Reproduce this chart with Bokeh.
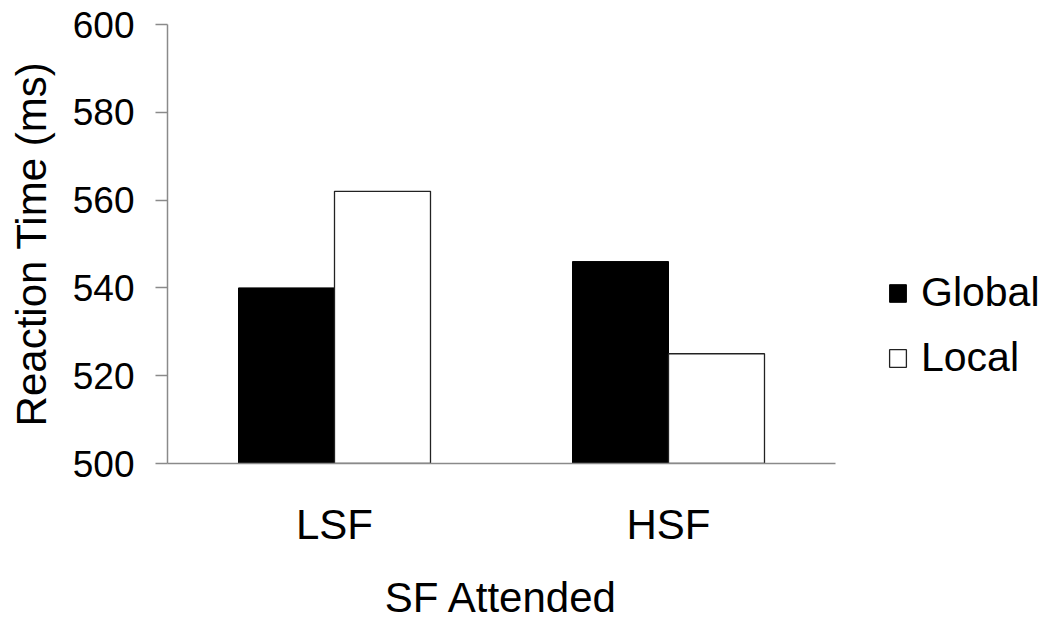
from bokeh.plotting import figure
from bokeh.models import Range1d, FactorRange, Legend, LegendItem, FixedTicker, ColumnDataSource
from bokeh.transform import dodge
from bokeh.embed import file_html
from bokeh.resources import INLINE

categories = ["LSF", "HSF"]
global_rt = [540, 546]
local_rt = [562, 525]
series = ["Global", "Local"]
y_ticks = [500, 520, 540, 560, 580, 600]

FONT = "Liberation Sans"

src = ColumnDataSource(dict(cat=categories, Global=global_rt, Local=local_rt))

p = figure(x_range=FactorRange(*categories), y_range=Range1d(y_ticks[0], y_ticks[-1]),
           frame_width=668, frame_height=439, output_backend="svg", toolbar_location=None,
           min_border_left=167, min_border_top=24, min_border_right=200, min_border_bottom=150)

bw = 0.2874
r1 = p.vbar(x=dodge('cat', -bw / 2, range=p.x_range), top='Global', bottom=y_ticks[0], width=bw,
            source=src, fill_color='black', line_color='black', line_width=1)
r2 = p.vbar(x=dodge('cat', bw / 2, range=p.x_range), top='Local', bottom=y_ticks[0], width=bw,
            source=src, fill_color='white', line_color='#222222', line_width=1.3)

p.xgrid.visible = False
p.ygrid.visible = False
p.outline_line_color = None
p.background_fill_color = 'white'
p.border_fill_color = 'white'

p.yaxis.ticker = FixedTicker(ticks=y_ticks)
for ax in (p.xaxis[0], p.yaxis[0]):
    ax.axis_line_color = '#8a8a8a'
    ax.axis_line_width = 1.5
    ax.major_tick_line_color = '#8a8a8a'
    ax.major_tick_line_width = 1.5
    ax.minor_tick_line_color = None
    ax.major_tick_in = 0
    ax.major_label_text_font = FONT
    ax.axis_label_text_font = FONT
    ax.axis_label_text_font_style = 'normal'
    ax.major_label_text_color = 'black'
    ax.axis_label_text_color = 'black'

p.yaxis.major_tick_out = 12
p.yaxis.major_label_standoff = 21
p.yaxis.major_label_text_font_size = '37px'
p.yaxis.axis_label = 'Reaction Time (ms)'
p.yaxis.axis_label_text_font_size = '42px'
p.yaxis.axis_label_standoff = 15

p.xaxis.major_tick_out = 0
p.xaxis.major_tick_line_color = None
p.xaxis.major_label_standoff = 37
p.xaxis.major_label_text_font_size = '42px'
p.xaxis.axis_label = 'SF Attended'
p.xaxis.axis_label_text_font_size = '42px'
p.xaxis.axis_label_standoff = 23

legend = Legend(items=[LegendItem(label=series[0], renderers=[r1]),
                       LegendItem(label=series[1], renderers=[r2])],
                location=(52, 82), orientation='vertical',
                label_text_font=FONT, label_text_font_size='41px', label_text_color='black',
                glyph_width=21, glyph_height=22, label_standoff=13, spacing=18,
                padding=0, margin=0, border_line_color=None, background_fill_alpha=0)
p.add_layout(legend, 'right')

open("out.html", "w").write(file_html(p, INLINE))
